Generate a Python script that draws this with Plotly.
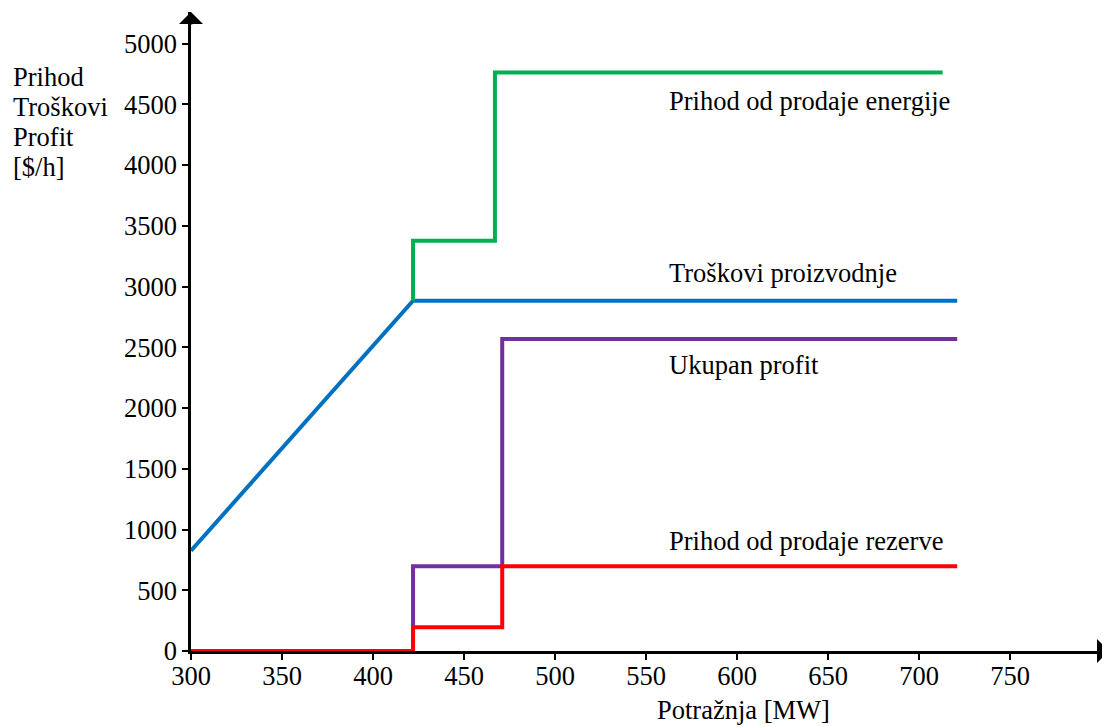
import plotly.graph_objects as go

# Data
trosak_x = [300, 422, 721]
trosak_y = [825, 2883, 2883]
energija_x = [422, 422, 467, 467, 713]
energija_y = [2883, 3377, 3377, 4762, 4762]
profit_x = [422, 422, 471, 471, 721]
profit_y = [0, 697, 697, 2568, 2568]
rezerva_x = [300, 422, 422, 471, 471, 721]
rezerva_y = [0, 0, 195, 195, 697, 697]

x_ticks = [300, 350, 400, 450, 500, 550, 600, 650, 700, 750]
y_ticks = [0, 500, 1000, 1500, 2000, 2500, 3000, 3500, 4000, 4500, 5000]

labels = [
    ("Prihod od prodaje energije", 561.5, 4530),
    ("Troškovi proizvodnje", 561.5, 3110),
    ("Ukupan profit", 561.5, 2355),
    ("Prihod od prodaje rezerve", 561.5, 905),
]
y_title_lines = ["Prihod", "Troškovi", "Profit", "[$/h]"]

FONT = "Liberation Serif, Times New Roman, serif"
FS = 26.5
W = 4

# figure geometry (page body has 8px margin)
FW, FH = 1102, 719
L, R, T, B = 183, 0, 4, 76
PW, PH = FW - L - R, FH - T - B

fig = go.Figure()
fig.add_trace(go.Scatter(x=trosak_x, y=trosak_y, mode="lines",
                         line=dict(color="#0070C0", width=W)))
fig.add_trace(go.Scatter(x=energija_x, y=energija_y, mode="lines",
                         line=dict(color="#00B050", width=W)))
fig.add_trace(go.Scatter(x=profit_x, y=profit_y, mode="lines",
                         line=dict(color="#7030A0", width=W)))
fig.add_trace(go.Scatter(x=rezerva_x, y=rezerva_y, mode="lines",
                         line=dict(color="#FF0000", width=W)))

ann = []
for t, x, y in labels:
    ann.append(dict(x=x, y=y, text=t, showarrow=False, xanchor="left",
                    yanchor="middle", font=dict(size=FS, family=FONT, color="black")))

# axis arrows
ann.append(dict(x=1, y=0, xref="paper", yref="paper", ax=-14, ay=0,
                showarrow=True, arrowhead=1, arrowsize=1.6, arrowwidth=2.5,
                arrowcolor="black", text=""))
ann.append(dict(x=0, y=1, xref="paper", yref="paper", ax=0, ay=14,
                showarrow=True, arrowhead=1, arrowsize=1.6, arrowwidth=2.5,
                arrowcolor="black", text=""))

# y-axis title block (separate lines)
centers = [77, 107, 137, 167]  # window px
for txt, cy in zip(y_title_lines, centers):
    fy = cy - 8
    ann.append(dict(x=(11 - 8 - L) / PW, y=1 - (fy - T) / PH, xref="paper", yref="paper",
                    xanchor="left", yanchor="middle", showarrow=False, text=txt,
                    font=dict(size=FS, family=FONT, color="black")))

# x-axis title
ann.append(dict(x=(743 - 8 - L) / PW, y=-(710 - 8 - T - PH) / PH, xref="paper", yref="paper",
                xanchor="center", yanchor="middle", showarrow=False, text="Potražnja [MW]",
                font=dict(size=FS, family=FONT, color="black")))

fig.update_layout(
    width=FW, height=FH,
    margin=dict(l=L, r=R, t=T, b=B, pad=0),
    plot_bgcolor="white", paper_bgcolor="white",
    showlegend=False,
    font=dict(family=FONT, size=FS, color="black"),
    annotations=ann,
    xaxis=dict(range=[300, 300 + PW / 1.82], tickvals=x_ticks, showgrid=False, zeroline=False,
               showline=True, linecolor="black", linewidth=2.5, ticks="outside",
               ticklen=6, tickwidth=2, tickcolor="black", layer="below traces",
               ticklabelstandoff=-7,
               tickfont=dict(size=FS, family=FONT)),
    yaxis=dict(range=[0, PH / 0.1215], tickvals=y_ticks, showgrid=False, zeroline=False,
               showline=True, linecolor="black", linewidth=2.5, ticks="outside",
               ticklen=6, tickwidth=2, tickcolor="black", layer="below traces",
               tickfont=dict(size=FS, family=FONT)),
)

fig.write_html("out.html")
